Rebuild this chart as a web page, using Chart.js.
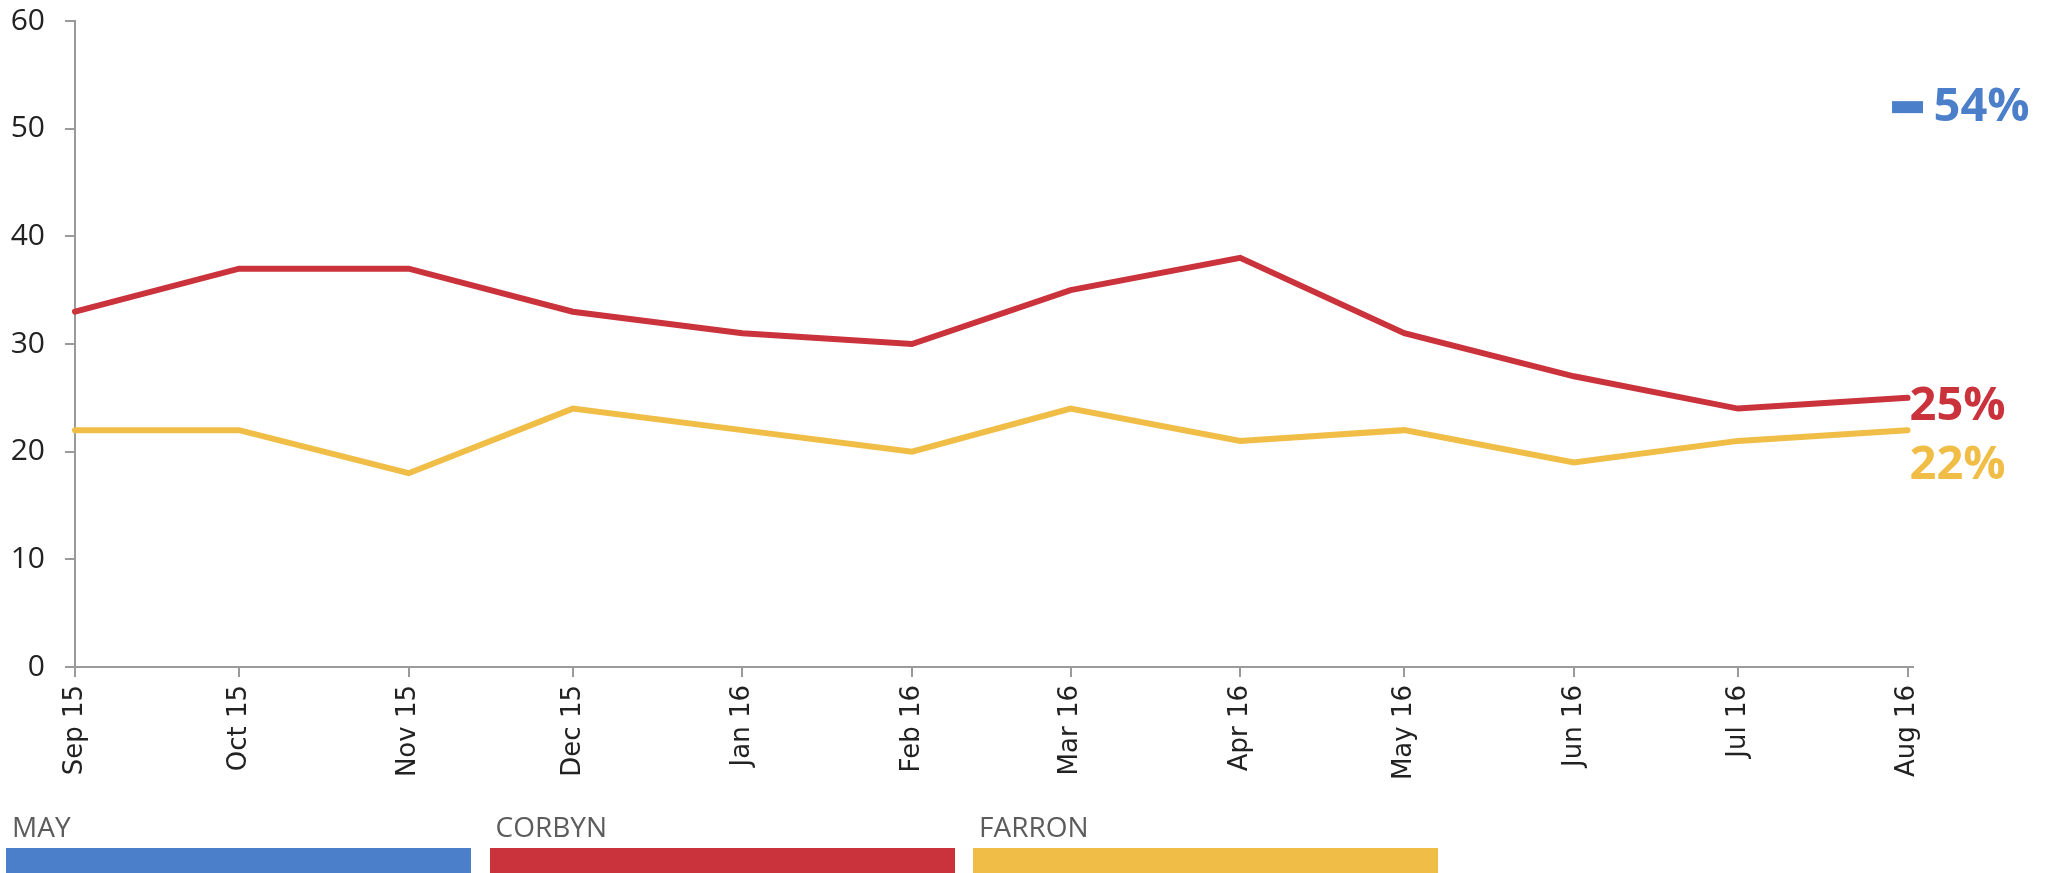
<!DOCTYPE html>
<html>
<head>
<meta charset="utf-8">
<script src="https://cdn.jsdelivr.net/npm/chart.js@4.4.1/dist/chart.umd.min.js"></script>
<style>
  body { margin: 0; background: #fff; overflow: hidden; }
  #wrap { position: relative; width: 2046px; height: 873px; }
  #chart { position: absolute; left: 0; top: 0; }
  .leg { position: absolute; top: 810px; width: 465px; }
  .leg span { display: block; font-family: "Open Sans", sans-serif; font-size: 28px; color: #5c5c5c; padding-left: 6px; height: 38px; line-height: 32px; }
  .leg div { height: 26px; }
</style>
</head>
<body>
<div id="wrap">
  <canvas id="chart" width="2046" height="873"></canvas>
</div>
<script>
// data
const months = ["Sep 15", "Oct 15", "Nov 15", "Dec 15", "Jan 16", "Feb 16",
                "Mar 16", "Apr 16", "May 16", "Jun 16", "Jul 16", "Aug 16"];
const monthStarts = ["2015-09-01", "2015-10-01", "2015-11-01", "2015-12-01", "2016-01-01", "2016-02-01",
                     "2016-03-01", "2016-04-01", "2016-05-01", "2016-06-01", "2016-07-01", "2016-08-01"];
const seriesNames = ["MAY", "CORBYN", "FARRON"];
const seriesColors = ["#4b7fca", "#cb333c", "#f0bd47"];
const mayValues = [null, null, null, null, null, null, null, null, null, null, null, 52];
const corbynValues = [33, 37, 37, 33, 31, 30, 35, 38, 31, 27, 24, 25];
const farronValues = [22, 22, 18, 24, 22, 20, 24, 21, 22, 19, 21, 22];
const endLabels = ["54%", "25%", "22%"];
const yTicks = [0, 10, 20, 30, 40, 50, 60];

// x positions in days since the first month
const days = monthStarts.map((d) => (Date.parse(d) - Date.parse(monthStarts[0])) / 86400000);
const toPoints = (values) => values.map((v, i) => ({ x: days[i], y: v }));

// end-of-line labels
const endLabelPlugin = {
  id: "endLabels",
  afterDatasetsDraw(chart) {
    const ctx = chart.ctx;
    const offsets = [[26, 0], [2, 9], [2, 35]];
    chart.data.datasets.forEach((ds, i) => {
      const meta = chart.getDatasetMeta(i);
      let last = ds.data.length - 1;
      while (last >= 0 && ds.data[last].y == null) last--;
      const pt = meta.data[last];
      ctx.save();
      ctx.font = "bold 47px 'Open Sans'";
      ctx.fillStyle = seriesColors[i];
      ctx.textAlign = "left";
      ctx.textBaseline = "middle";
      ctx.fillText(endLabels[i], pt.x + offsets[i][0], pt.y + offsets[i][1]);
      ctx.restore();
    });
  }
};

function buildLegend() {
  const wrap = document.getElementById("wrap");
  seriesNames.forEach((name, i) => {
    const item = document.createElement("div");
    item.className = "leg";
    item.style.left = (6 + i * 483.5) + "px";
    item.innerHTML = `<span>${name}</span><div style="background:${seriesColors[i]}"></div>`;
    wrap.appendChild(item);
  });
}

const axisGray = "#9a9a9a";

new Chart(document.getElementById("chart"), {
  type: "line",
  data: {
    datasets: [
      {
        label: seriesNames[0],
        data: toPoints(mayValues),
        showLine: false,
        pointStyle: "line",
        pointRadius: 15.5,
        pointBorderWidth: 12,
        borderColor: seriesColors[0],
        backgroundColor: seriesColors[0],
        clip: false
      },
      {
        label: seriesNames[1],
        data: toPoints(corbynValues),
        borderColor: seriesColors[1],
        borderWidth: 6,
        pointRadius: 0,
        tension: 0,
        borderCapStyle: "round",
        clip: false
      },
      {
        label: seriesNames[2],
        data: toPoints(farronValues),
        borderColor: seriesColors[2],
        borderWidth: 6,
        pointRadius: 0,
        tension: 0,
        borderCapStyle: "round",
        clip: false
      }
    ]
  },
  options: {
    responsive: false,
    animation: false,
    events: [],
    layout: { autoPadding: false, padding: { top: 21, right: 133, left: 0, bottom: 0 } },
    plugins: { legend: { display: false }, tooltip: { enabled: false } },
    scales: {
      x: {
        type: "linear",
        min: days[0],
        max: days[days.length - 1] + 1,
        afterBuildTicks: (scale) => { scale.ticks = days.map((v) => ({ value: v })); },
        afterFit: (scale) => {
          scale.height = 206;
          scale.paddingLeft = 0;
          scale.paddingRight = 0;
        },
        ticks: {
          autoSkip: false,
          minRotation: 90,
          maxRotation: 90,
          padding: 8,
          color: "#222",
          font: { family: "DejaVu Sans", size: 26 },
          callback: (v) => months[days.indexOf(v)]
        },
        grid: { drawOnChartArea: false, drawTicks: true, tickLength: 10, color: axisGray, lineWidth: 2 },
        border: { color: axisGray, width: 2 }
      },
      y: {
        min: yTicks[0],
        max: yTicks[yTicks.length - 1],
        afterBuildTicks: (scale) => { scale.ticks = yTicks.map((v) => ({ value: v })); },
        afterFit: (scale) => {
          scale.width = 75;
          scale.paddingTop = 0;
          scale.paddingBottom = 0;
        },
        ticks: {
          padding: 20,
          color: "#222",
          font: { family: "Open Sans", size: 30 }
        },
        grid: { drawOnChartArea: false, drawTicks: true, tickLength: 10, color: axisGray, lineWidth: 2 },
        border: { color: axisGray, width: 2 }
      }
    }
  },
  plugins: [endLabelPlugin]
});

buildLegend();
</script>
</body>
</html>
